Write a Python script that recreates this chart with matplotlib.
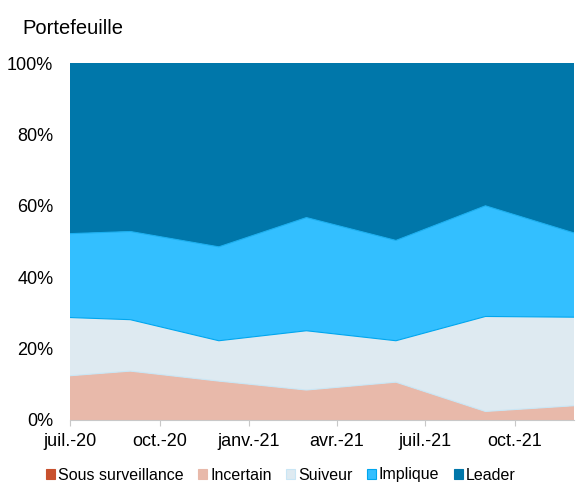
import numpy as np
import pandas as pd
import matplotlib
matplotlib.use("Agg")
import matplotlib.pyplot as plt
from matplotlib.patches import Patch
from matplotlib.ticker import FuncFormatter

plt.rcParams['font.family'] = ['Liberation Sans', 'DejaVu Sans']

# données (part du portefeuille en %)
dates = pd.to_datetime(["2020-07-01", "2020-09-01", "2020-12-01", "2021-03-01",
                        "2021-06-01", "2021-09-01", "2021-12-01"])
sous_surveillance = [0, 0, 0, 0, 0, 0, 0]
incertain = [12.4, 13.7, 10.9, 8.4, 10.6, 2.4, 4.0]
suiveur = [16.3, 14.4, 11.3, 16.6, 11.6, 26.6, 24.8]
implique = [23.5, 24.7, 26.3, 31.7, 28.1, 31.0, 23.6]
leader = [47.8, 47.2, 51.5, 43.3, 49.7, 40.0, 47.6]

labels = ["Sous surveillance", "Incertain", "Suiveur", "Implique", "Leader"]
colors = ["#C8512E", "#E8B9AA", "#DEEAF1", "#33BFFF", "#0077AA"]
# couleur de la ligne au-dessus de chaque couche
edges = ["#C8512E", "#C9E6F5", "#00A6EE", "#1AAFF0", "#0077AA"]
legend_edges = ["#C8512E", "#E8B9AA", "#C9E6F5", "#00A6EE", "#0077AA"]

tick_dates = pd.to_datetime(["2020-07-01", "2020-10-01", "2021-01-01",
                             "2021-04-01", "2021-07-01", "2021-10-01"])
tick_labels = ["juil.-20", "oct.-20", "janv.-21", "avr.-21", "juil.-21", "oct.-21"]

fig = plt.figure(figsize=(5.81, 4.95), dpi=100)
ax = fig.add_axes([70 / 581, 1 - 420 / 495, 504 / 581, 357 / 495])

series = [sous_surveillance, incertain, suiveur, implique, leader]
bottom = np.zeros(len(dates))
for vals, c, e in zip(series, colors, edges):
    top = bottom + np.array(vals)
    ax.fill_between(dates, bottom, top, facecolor=c, edgecolor="none")
    if any(v > 0 for v in vals):
        ax.plot(dates, top, color=e, lw=0.8)
    bottom = top

ax.set_xlim(dates[0], dates[-1])
ax.set_ylim(0, 100)
ax.set_yticks(np.arange(0, 101, 20))
ax.yaxis.set_major_formatter(FuncFormatter(lambda v, p: f"{v:.0f}%"))
ax.set_xticks(tick_dates)
ax.set_xticklabels(tick_labels)

for s in ["top", "right", "left"]:
    ax.spines[s].set_visible(False)
ax.spines["bottom"].set_color("#C8C8C8")
ax.tick_params(axis="y", length=0, labelsize=13, pad=12)
ax.tick_params(axis="x", length=4, color="#C8C8C8", labelsize=13, pad=5)

fig.text(22 / 581, 1 - 28 / 495, "Portefeuille", fontsize=14.5, va="center")

handles = [Patch(facecolor=c, edgecolor=e, lw=0.8) for c, e in zip(colors, legend_edges)]
fig.legend(handles, labels, loc="center", bbox_to_anchor=(281 / 581, 1 - 475 / 495),
           ncol=5, frameon=False, fontsize=11.5, handlelength=0.55, handleheight=0.55,
           handletextpad=0.2, columnspacing=0.9)

fig.savefig("out.png", dpi=100)
